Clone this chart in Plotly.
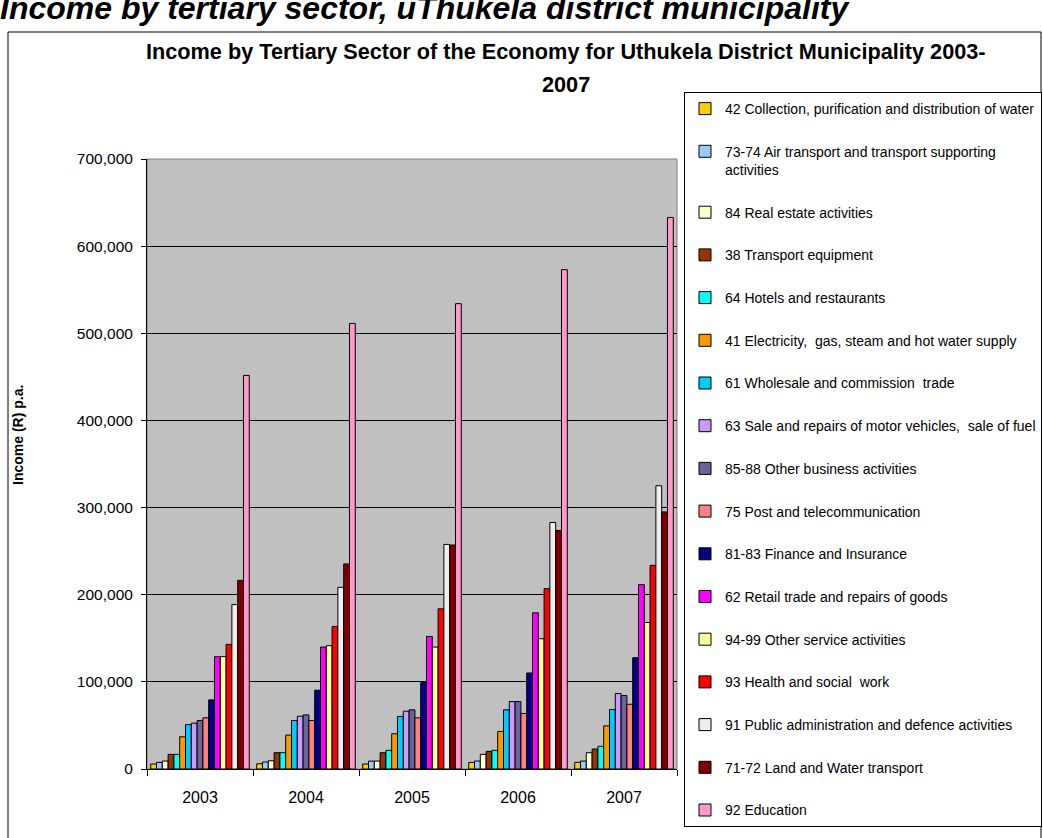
import plotly.graph_objects as go

years = ["2003", "2004", "2005", "2006", "2007"]

sectors = [
    "42 Collection, purification and distribution of water",
    "73-74 Air transport and transport supporting<br>activities",
    "84 Real estate activities",
    "38 Transport equipment",
    "64 Hotels and restaurants",
    "41 Electricity,  gas, steam and hot water supply",
    "61 Wholesale and commission  trade",
    "63 Sale and repairs of motor vehicles,  sale of fuel",
    "85-88 Other business activities",
    "75 Post and telecommunication",
    "81-83 Finance and Insurance",
    "62 Retail trade and repairs of goods",
    "94-99 Other service activities",
    "93 Health and social  work",
    "91 Public administration and defence activities",
    "71-72 Land and Water transport",
    "92 Education",
]

v42 = [5700, 6000, 5700, 7600, 7600]
v73_74 = [7600, 8000, 9100, 9100, 9100]
v84 = [9100, 9500, 9100, 16800, 18700]
v38 = [16800, 18700, 18700, 20200, 22900]
v64 = [16800, 18700, 21400, 21400, 26000]
v41 = [37000, 38900, 40400, 43100, 49500]
v61 = [51000, 55700, 60300, 67900, 68300]
v63 = [52600, 60600, 66300, 77400, 86600]
v85_88 = [55700, 62100, 67900, 77400, 84300]
v75 = [58700, 55700, 58700, 63700, 74300]
v81_83 = [79300, 90400, 99100, 110200, 127700]
v62 = [128900, 139900, 152100, 179200, 211600]
v94_99 = [129000, 141500, 139900, 149500, 168100]
v93 = [143000, 163600, 183800, 207000, 233700]
v91 = [188700, 208500, 257700, 282900, 325000]
v71_72 = [216500, 235300, 257000, 273700, 295000]
v92 = [451700, 511300, 534000, 573000, 632900]

series = [v42, v73_74, v84, v38, v64, v41, v61, v63, v85_88, v75,
          v81_83, v62, v94_99, v93, v91, v71_72, v92]

colors = ["#FFCC00", "#99CCFF", "#FFFFCC", "#993300", "#00FFFF", "#FF9900",
          "#00CCFF", "#CC99FF", "#666699", "#FF8080", "#000080", "#FF00FF",
          "#FFFF99", "#FF0000", "#EEEEEE", "#800000", "#FF99CC"]

W, H = 1043, 838
L, R, T, B = 147, 677, 159, 769
pw, ph = R - L, B - T


def px(x):
    return (x - L) / pw


def py(y):
    return (B - y) / ph


fig = go.Figure()
for i, (name, vals, col) in enumerate(zip(sectors, series, colors)):
    fig.add_trace(go.Bar(
        x=years, y=vals, name=name, legendgroup=f"g{i}",
        marker=dict(color=col, line=dict(color="black", width=1)),
    ))

font_family = "Liberation Sans, Arial, sans-serif"

fig.update_layout(
    width=W, height=H,
    margin=dict(l=L, r=W - R, t=T, b=H - B, pad=0, autoexpand=False),
    paper_bgcolor="white",
    plot_bgcolor="#C0C0C0",
    barmode="group",
    bargap=0.07,
    bargroupgap=0,
    font=dict(family=font_family, color="black"),
    showlegend=True,
    legend=dict(
        x=px(684), y=py(92), xanchor="left", yanchor="top",
        bgcolor="white", bordercolor="black", borderwidth=1,
        font=dict(size=14, family=font_family, color="black"),
        tracegroupgap=21.5, valign="top", traceorder="grouped",
        maxheight=800,
    ),
    xaxis=dict(
        type="category", showline=True, linecolor="black", linewidth=1,
        ticks="outside", tickson="boundaries", ticklen=6, tickcolor="black",
        showgrid=False, tickfont=dict(size=16, family=font_family),
        ticklabelstandoff=14,
    ),
    yaxis=dict(
        range=[0, 700000], dtick=100000, tickformat=",",
        showline=True, linecolor="black", linewidth=1,
        ticks="outside", ticklen=5, tickcolor="black",
        showgrid=True, gridcolor="black", gridwidth=1, zeroline=False,
        tickfont=dict(size=15.5, family=font_family),
        ticklabelstandoff=5,
    ),
)

# outer chart frame and plot-area border
fig.add_shape(type="rect", xref="paper", yref="paper",
              x0=px(8), x1=px(1041), y0=py(850), y1=py(32),
              line=dict(color="black", width=1), layer="below")
fig.add_shape(type="rect", xref="paper", yref="paper",
              x0=0, x1=1, y0=0, y1=1,
              line=dict(color="#808080", width=1), layer="below")

# top heading (partly cut off at the page top)
fig.add_annotation(
    text="Income by tertiary sector, uThukela district municipality",
    xref="paper", yref="paper", x=px(-2), y=py(28),
    xanchor="left", yanchor="bottom", showarrow=False,
    font=dict(size=32, family=font_family, weight="bold", style="italic", color="black"),
)

# chart title
fig.add_annotation(
    text="Income by Tertiary Sector of the Economy for Uthukela District Municipality 2003-",
    xref="paper", yref="paper", x=px(566), y=py(52),
    xanchor="center", yanchor="middle", showarrow=False,
    font=dict(size=21.7, family=font_family, weight="bold", color="black"),
)
fig.add_annotation(
    text="2007",
    xref="paper", yref="paper", x=px(566), y=py(85),
    xanchor="center", yanchor="middle", showarrow=False,
    font=dict(size=21.7, family=font_family, weight="bold", color="black"),
)

# y-axis title
fig.add_annotation(
    text="Income (R) p.a.",
    xref="paper", yref="paper", x=px(18), y=py(435),
    xanchor="center", yanchor="middle", showarrow=False, textangle=-90,
    font=dict(size=14, family=font_family, weight="bold", color="black"),
)

fig.write_html("out.html")
